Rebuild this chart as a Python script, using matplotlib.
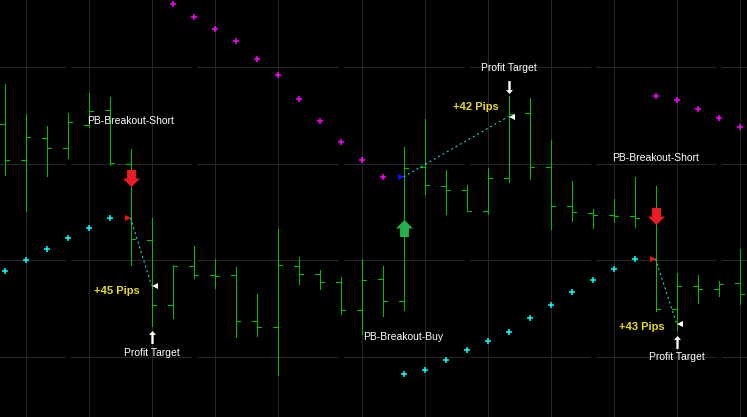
"""PB breakout trades on an OHLC bar chart, dark terminal style
"""
import numpy as np
import matplotlib
matplotlib.use('Agg')
from matplotlib import pyplot as plt
from matplotlib.path import Path
from matplotlib.transforms import offset_copy

# bar prices (chart units)
highs = [334, 304, 292, 305, 325, 321, 269, 200, 153, 172, 159, 151, 124, 189, 161, 148, 141, 159,
         152, 271, 299, 248, 233, 250, 322, 320, 278, 237, 209, 219, 241, 232, 145, 143, 137, 169]
lows = [243, 207, 242, 260, 291, 253, 153, 92, 100, 140, 130, 81, 82, 43, 134, 129, 104, 84,
        102, 108, 224, 204, 207, 204, 236, 239, 189, 197, 190, 196, 191, 107, 88, 115, 122, 114]
opens = [294, 258, 280, 270, 293, 308, 254, 178, 113, 152, 143, 143, 97, 91, 152, 144, 136, 108,
         139, 117, 251, 232, 228, 207, 240, 305, 251, 212, 205, 203, 202, 200, 109, 132, 129, 135]
closes = [258, 281, 270, 296, 307, 255, 179, 113, 152, 143, 142, 97, 91, 153, 144, 136, 108, 138,
          117, 250, 233, 228, 207, 240, 304, 251, 212, 206, 203, 202, 200, 109, 132, 129, 134, 124]

# parabolic sar dots
nan = np.nan
sar_up = [147, 158, 169, 180, 190, 200] + [nan] * 13 + \
         [44, 48, 58, 68, 77, 86, 100, 113, 126, 138, 149, 159] + [nan] * 5
sar_down = [nan] * 8 + [414, 401, 389, 377, 359, 343, 319, 297, 276, 258, 241] + \
           [nan] * 12 + [322, 318, 309, 300, 291]

grid_bars = [1, 4, 7, 10, 13, 17, 20, 23, 26, 29, 32, 35]
grid_levels = [351, 254, 158, 61]
session_bars = [3, 9, 16, 22, 28, 34]

# signals and trades
signal_side = ['short', 'long', 'short']
signal_names = ['PB-Breakout-Short', 'PB-Breakout-Buy', 'PB-Breakout-Short']
signal_bar = [6, 19, 31]
signal_price = [239.5, 189.5, 202]
signal_label_price = [297, 81, 260]

entry_price = [199.7, 240.7, 158.7]
exit_bar = [7, 24, 32]
exit_price = [132, 301, 94]
target_arrow_price = [80.5, 330.5, 75.5]
target_label_price = [65, 350, 60]
pips_labels = ['+45 Pips', '+42 Pips', '+43 Pips']
pips_x = [5.33, 22.45, 30.33]
pips_price = [126, 311, 90.3]

W, H = 747, 417
BAR_PX = 21
PX = 0.72  # one pixel in points


def arrow_path(head_w, shaft_w, head_h, up=True):
    # arrow inside [-0.5, 0.5], pointing up
    top = 0.5 - head_h
    verts = [(0, 0.5), (head_w, top), (shaft_w, top), (shaft_w, -0.5),
             (-shaft_w, -0.5), (-shaft_w, top), (-head_w, top), (0, 0.5)]
    if not up:
        verts = [(x, -y) for x, y in verts]
    return Path(verts, closed=True)


fig = plt.figure(figsize=(W / 100, H / 100), dpi=100, facecolor='black')
ax = fig.add_axes([0, 0, 1, 1])
ax.set_facecolor('black')
ax.set_axis_off()
x0 = -4.5 / BAR_PX
ax.set_xlim(x0, x0 + W / BAR_PX)
ax.set_ylim(0.5, H + 0.5)

for b in grid_bars:
    ax.axvline(b, color='#262626', lw=PX, antialiased=False, zorder=1)
for lv in grid_levels:
    ax.axhline(lv, color='#262626', lw=PX, antialiased=False, zorder=1)
for b in session_bars:
    ax.axvline(b, color='black', lw=5 * PX, antialiased=False, zorder=1.5)

idx = np.arange(len(highs))
tick = 4.5 / BAR_PX
green = '#00c000'
ax.vlines(idx, lows, highs, color=green, lw=PX, antialiased=False, zorder=3)
ax.hlines(opens, idx - tick, idx, color=green, lw=PX, antialiased=False, zorder=3)
ax.hlines(closes, idx, idx + tick, color=green, lw=PX, antialiased=False, zorder=3)

ax.plot(idx, sar_up, ls='none', marker='+', ms=4.5, mew=1.1, color='#00ffff', zorder=4)
ax.plot(idx, sar_down, ls='none', marker='+', ms=4.5, mew=1.1, color='#ff00ff', zorder=4)

big_up = arrow_path(0.5, 0.26, 0.5)
big_down = arrow_path(0.5, 0.26, 0.5, up=False)
small_up = arrow_path(0.27, 0.09, 0.3)
small_down = arrow_path(0.27, 0.09, 0.3, up=False)

txt = dict(color='white', fontsize=7.5, family='Liberation Sans', ha='center', va='center', zorder=6)

for k in range(len(signal_bar)):
    short = signal_side[k] == 'short'
    eb, xb = signal_bar[k], exit_bar[k]
    # signal arrow + name
    ax.plot(eb, signal_price[k], marker=big_down if short else big_up, ms=17 * PX,
            color='#ed1c24' if short else '#22b14c', mew=0, zorder=5)
    ax.text(eb, signal_label_price[k], signal_names[k], **txt)
    # trade line from entry to exit
    ax.plot([eb, xb], [entry_price[k], exit_price[k]], color='#30e8e8', lw=PX,
            ls=(0, (2, 3)), zorder=5)
    left = offset_copy(ax.transData, fig=fig, x=-3, y=0, units='dots')
    right = offset_copy(ax.transData, fig=fig, x=3.5, y=0, units='dots')
    ax.plot(eb, entry_price[k], marker='>', ms=6 * PX, mew=0,
            color='#ff1010' if short else '#1010ff', transform=left, zorder=5)
    ax.plot(xb, exit_price[k], marker='<', ms=6 * PX, mew=0, color='white',
            transform=right, zorder=5)
    # profit target
    ax.plot(xb, target_arrow_price[k], marker=small_up if short else small_down,
            ms=13 * PX, mew=0, color='white', zorder=5)
    ax.text(xb, target_label_price[k], 'Profit Target', **txt)
    ax.text(pips_x[k], pips_price[k], pips_labels[k], color='#e8dc20', fontsize=8,
            fontweight='bold', family='Liberation Sans', ha='center', va='center', zorder=6)

fig.savefig('out.png', dpi=100, facecolor='black')
